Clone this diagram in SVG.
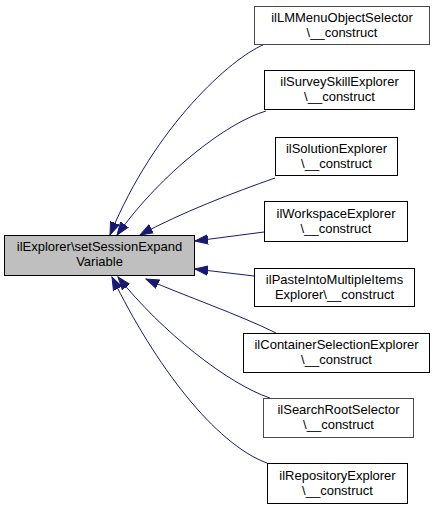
<svg xmlns="http://www.w3.org/2000/svg" width="435" height="509" viewBox="0 0 435 509">
<defs>
<style>
.n rect{fill:#ffffff;stroke:#000000;stroke-width:1}
.n.g rect{stroke:#4a4a4a}
.n.m rect{fill:#bfbfbf}
text{font-family:"Liberation Sans",Arial,Helvetica,sans-serif;font-size:13px;fill:#000;text-anchor:middle}
.e path{fill:none;stroke:#191970;stroke-width:1;marker-end:url(#ah)}
</style>
<marker id="ah" markerUnits="userSpaceOnUse" markerWidth="14" markerHeight="12" viewBox="0 -6 14 12" refX="13" refY="0" orient="auto">
<path d="M0,-4.7 L13,0 L0,4.7 Z" fill="#191970" stroke="#191970" stroke-width="1"/>
</marker>
</defs>
<rect width="435" height="509" fill="#ffffff"/>
<g id="edges" class="e">
<path d="M263,45 C232,58 155,125 110,235"/>
<path d="M266,111 C228,122 162,172 117,235"/>
<path d="M275,178 C235,192 180,213 140,235"/>
<path d="M264,232 L195,241"/>
<path d="M254,276 L195,269"/>
<path d="M276,333 C240,315 185,296 146,279"/>
<path d="M270,398 C228,384 162,332 118,277"/>
<path d="M267,463 C215,444 155,365 112,277"/>
</g>
<g id="main" class="n m">
<rect x="4.5" y="235.5" width="190" height="40"/>
<text x="99.5" y="251">ilExplorer\setSessionExpand</text>
<text x="99.5" y="266">Variable</text>
</g>
<g id="lmmenu" class="n g">
<rect x="254.5" y="6.5" width="175" height="38"/>
<text x="342" y="22">ilLMMenuObjectSelector</text>
<text x="342" y="37">\__construct</text>
</g>
<g id="survey" class="n">
<rect x="264.5" y="70.5" width="150" height="39"/>
<text x="339.5" y="86">ilSurveySkillExplorer</text>
<text x="339.5" y="101">\__construct</text>
</g>
<g id="solution" class="n">
<rect x="275.5" y="137.5" width="122" height="38"/>
<text x="336.5" y="153">ilSolutionExplorer</text>
<text x="336.5" y="168">\__construct</text>
</g>
<g id="workspace" class="n">
<rect x="264.5" y="201.5" width="143" height="40"/>
<text x="336" y="218">ilWorkspaceExplorer</text>
<text x="336" y="233">\__construct</text>
</g>
<g id="paste" class="n">
<rect x="254.5" y="268.5" width="160" height="38"/>
<text x="334.5" y="284">ilPasteIntoMultipleItems</text>
<text x="334.5" y="299">Explorer\__construct</text>
</g>
<g id="container" class="n">
<rect x="243.5" y="333.5" width="186" height="39"/>
<text x="336.5" y="349">ilContainerSelectionExplorer</text>
<text x="336.5" y="364">\__construct</text>
</g>
<g id="searchroot" class="n g">
<rect x="263.5" y="398.5" width="150" height="39"/>
<text x="338.5" y="414">ilSearchRootSelector</text>
<text x="338.5" y="429">\__construct</text>
</g>
<g id="repository" class="n">
<rect x="267.5" y="463.5" width="140" height="40"/>
<text x="337.5" y="480">ilRepositoryExplorer</text>
<text x="337.5" y="495">\__construct</text>
</g>
</svg>
